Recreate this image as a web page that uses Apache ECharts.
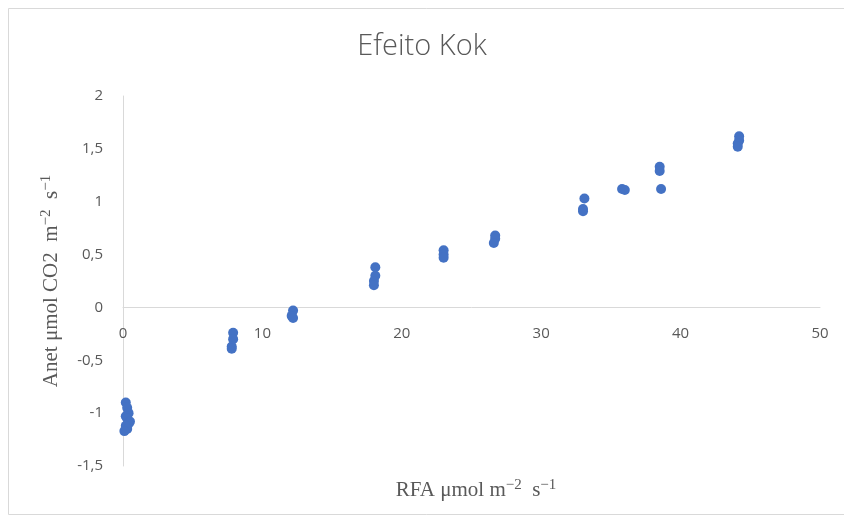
<!DOCTYPE html>
<html>
<head>
<meta charset="utf-8">
<script src="https://cdn.jsdelivr.net/npm/echarts@6/dist/echarts.min.js"></script>
<style>
  html, body { margin: 0; padding: 0; background: #fff; }
  #chart { width: 844px; height: 522px; }
</style>
</head>
<body>
<div id="chart"></div>
<script>
// RFA (photosynthetically active radiation) readings, µmol m-2 s-1
const rfa = [
  0.2, 0.3, 0.4, 0.2, 0.3, 0.5, 0.4, 0.2, 0.3, 0.1,
  7.9, 7.9, 7.8, 7.8,
  12.2, 12.1, 12.2,
  18.1, 18.1, 18.0, 18.0,
  23.0, 23.0, 23.0,
  26.7, 26.7, 26.6,
  33.1, 33.0, 33.0,
  35.8, 36.0,
  38.5, 38.5, 38.6,
  44.2, 44.2, 44.1, 44.1
];
// Net assimilation, µmol CO2 m-2 s-1
const anet = [
  -0.90, -0.95, -1.00, -1.03, -1.05, -1.08, -1.10, -1.12, -1.15, -1.17,
  -0.24, -0.30, -0.37, -0.39,
  -0.03, -0.08, -0.10,
  0.38, 0.30, 0.25, 0.21,
  0.54, 0.50, 0.47,
  0.68, 0.65, 0.61,
  1.03, 0.93, 0.91,
  1.12, 1.11,
  1.33, 1.29, 1.12,
  1.62, 1.58, 1.55, 1.52
];
const xTicks = [0, 10, 20, 30, 40, 50];
const yTicks = [-1.5, -1, -0.5, 0, 0.5, 1, 1.5, 2];

const points = rfa.map((x, i) => [x, anet[i]]);
const fmt = v => String(v).replace('.', ',');

const gridTop = 96, gridBottom = 56, height = 522;
const plotH = height - gridTop - gridBottom;
const yMin = yTicks[0], yMax = yTicks[yTicks.length - 1];
// shift the x axis up from the grid bottom to where y = 0 lies
const zeroOffset = -plotH * (0 - yMin) / (yMax - yMin);

const serif = 'Liberation Serif, DejaVu Serif, serif';
const sup = { fontFamily: serif, fontSize: 15, color: '#595959', verticalAlign: 'top', padding: [0, 0, 9, 0] };

const chart = echarts.init(document.getElementById('chart'), null, { renderer: 'canvas' });
chart.setOption({
  animation: false,
  backgroundColor: '#ffffff',
  title: [
    {
      text: 'Efeito Kok',
      left: 'center',
      top: 27,
      textStyle: { fontFamily: 'Open Sans', fontWeight: 300, fontSize: 29, color: '#595959' }
    },
    {
      text: 'RFA μmol m{s|−2}  s{s|−1}',
      left: 471,
      textAlign: 'center',
      top: 473,
      textStyle: {
        fontFamily: serif, fontWeight: 'normal', fontSize: 21, color: '#595959',
        rich: { s: sup }
      }
    }
  ],
  graphic: [
    {
      type: 'rect',
      shape: { x: 8.5, y: 8.5, width: 850, height: 506 },
      style: { fill: 'none', stroke: '#d9d9d9', lineWidth: 1 },
      silent: true
    }
  ],
  grid: { left: 123, right: 24, top: gridTop, bottom: gridBottom },
  xAxis: {
    type: 'value',
    position: 'bottom',
    offset: zeroOffset,
    min: xTicks[0],
    max: xTicks[xTicks.length - 1],
    interval: 10,
    axisLine: { onZero: false, lineStyle: { color: '#d9d9d9', width: 1 } },
    axisTick: { show: false },
    splitLine: { show: false },
    axisLabel: { color: '#595959', fontSize: 15, fontFamily: 'Open Sans', margin: 19 }
  },
  yAxis: {
    type: 'value',
    min: yMin,
    max: yMax,
    interval: 0.5,
    name: 'Anet μmol CO2  m{s|−2}  s{s|−1}',
    nameLocation: 'middle',
    nameGap: 60,
    nameTextStyle: { fontFamily: serif, fontSize: 21, color: '#595959', rich: { s: sup } },
    axisLine: { show: true, lineStyle: { color: '#d9d9d9', width: 1 } },
    axisTick: { show: false },
    splitLine: { show: false },
    axisLabel: { color: '#595959', fontSize: 15, fontFamily: 'Open Sans', margin: 20, formatter: fmt }
  },
  series: [
    {
      type: 'scatter',
      data: points,
      symbol: 'circle',
      symbolSize: 10,
      itemStyle: { color: '#4472C4', opacity: 1 }
    }
  ]
});
</script>
</body>
</html>
